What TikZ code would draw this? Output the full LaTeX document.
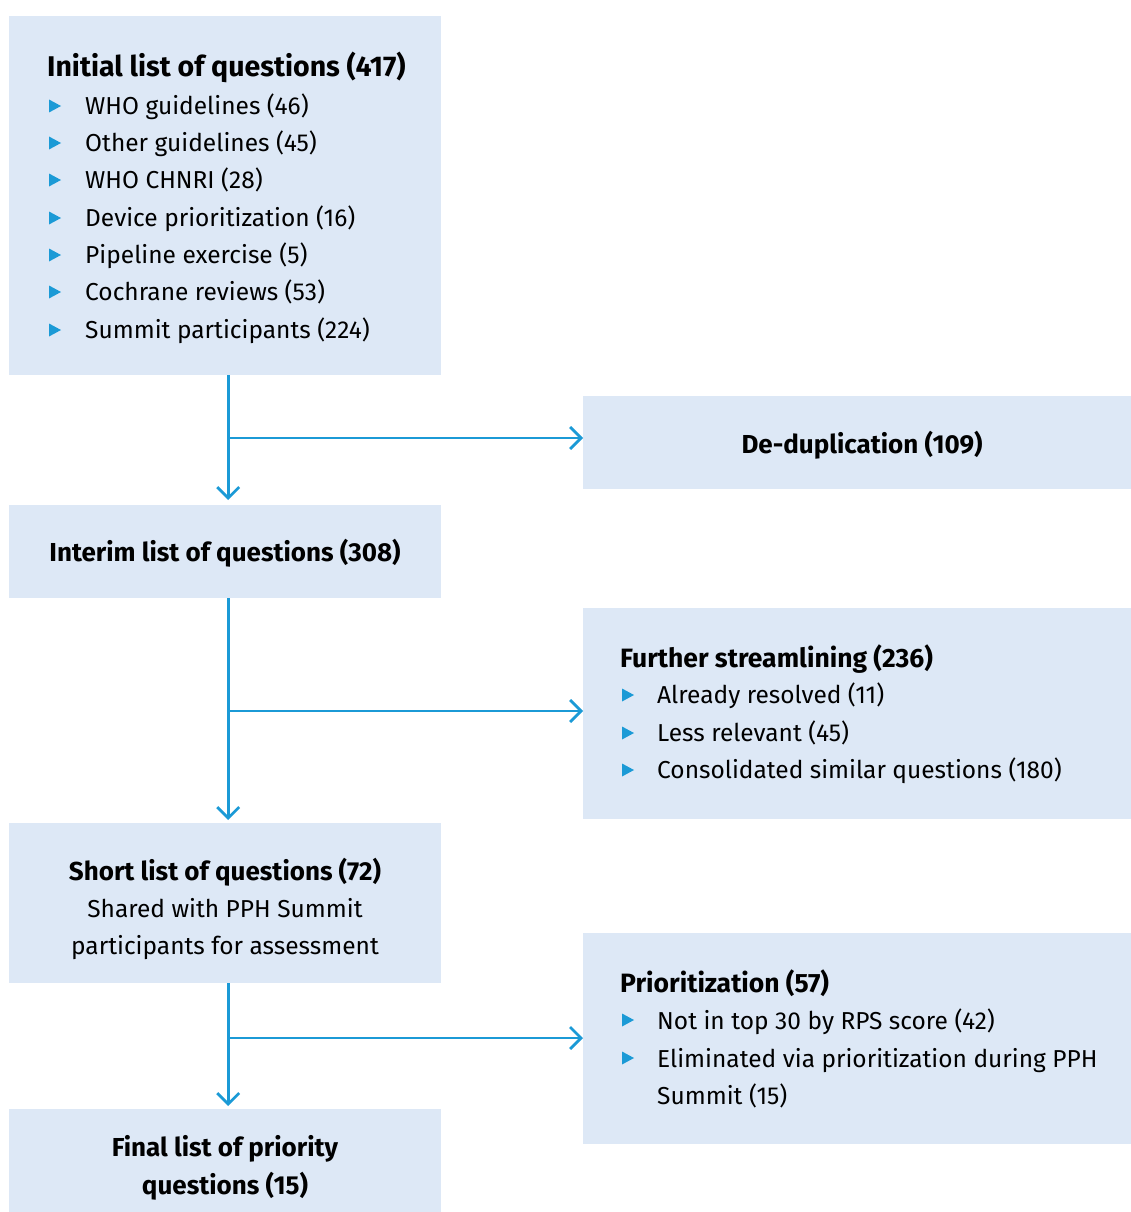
\documentclass[tikz,border=0pt]{standalone}
\usepackage{fontspec}
\setmainfont{Fira Sans}
\usetikzlibrary{arrows.meta}
\definecolor{boxfill}{HTML}{DDE8F6}
\definecolor{lineblue}{HTML}{1B9AD6}
\tikzset{
  box/.style={fill=boxfill, draw=none, inner sep=0pt, anchor=north west},
  conn/.style={draw=lineblue, line width=2.7pt, -{Straight Barb[length=11pt,width=22pt,line width=2.7pt]}},
  txt/.style={inner sep=0pt, anchor=base west, font=\fontsize{24.5}{28}\selectfont},
  ttl/.style={inner sep=0pt, anchor=base west, font=\fontsize{26.5}{30}\selectfont\bfseries},
  bigttl/.style={inner sep=0pt, anchor=base west, font=\fontsize{28.5}{32}\selectfont\bfseries},
  ctxt/.style={inner sep=0pt, anchor=base, font=\fontsize{24.5}{28}\selectfont},
  cttl/.style={inner sep=0pt, anchor=base, font=\fontsize{26}{30}\selectfont\bfseries},
}
\newcommand{\bul}[2]{\fill[lineblue] (#1,#2-6.5) -- (#1+12,#2) -- (#1,#2+6.5) -- cycle;}
\begin{document}
\begin{tikzpicture}[x=1pt,y=-1pt]
\useasboundingbox (0,0) rectangle (1131,1212);
% boxes
\node[box, minimum width=432pt, minimum height=359pt] (A) at (9,16) {};
\node[box, minimum width=548pt, minimum height=93pt] (B) at (583,396) {};
\node[box, minimum width=432pt, minimum height=93pt] (C) at (9,505) {};
\node[box, minimum width=548pt, minimum height=211pt] (D) at (583,608) {};
\node[box, minimum width=432pt, minimum height=160pt] (E) at (9,823) {};
\node[box, minimum width=548pt, minimum height=211pt] (F) at (583,933) {};
\node[box, minimum width=432pt, minimum height=103pt] (G) at (9,1109) {};
% box A text
\node[bigttl] (a0) at (47,77) {Initial list of questions (417)};
\node[txt] (a1) at (85,114) {WHO guidelines (46)};
\node[txt] (a2) at (85,151) {Other guidelines (45)};
\node[txt] (a3) at (85,188) {WHO CHNRI (28)};
\node[txt] (a4) at (85,226) {Device prioritization (16)};
\node[txt] (a5) at (85,263) {Pipeline exercise (5)};
\node[txt] (a6) at (85,300) {Cochrane reviews (53)};
\node[txt] (a7) at (85,338) {Summit participants (224)};
\foreach \y in {106,143,180,218,255,292,330} {\bul{49}{\y}}
% box B
\node[cttl] (b0) at (862,453) {De-duplication (109)};
% box C
\node[cttl] (c0) at (225,561) {Interim list of questions (308)};
% box D
\node[ttl] (d0) at (620,667) {Further streamlining (236)};
\node[txt] (d1) at (657,703) {Already resolved (11)};
\node[txt] (d2) at (657,741) {Less relevant (45)};
\node[txt] (d3) at (657,778) {Consolidated similar questions (180)};
\foreach \y in {695,733,770} {\bul{622}{\y}}
% box E
\node[cttl] (e0) at (225,880) {Short list of questions (72)};
\node[ctxt] (e1) at (225,917) {Shared with PPH Summit};
\node[ctxt] (e2) at (225,954) {participants for assessment};
% box F
\node[ttl] (f0) at (620,992) {Prioritization (57)};
\node[txt] (f1) at (657,1029) {Not in top 30 by RPS score (42)};
\node[txt] (f2) at (657,1067) {Eliminated via prioritization during PPH};
\node[txt] (f3) at (657,1104) {Summit (15)};
\foreach \y in {1020,1058} {\bul{622}{\y}}
% box G
\node[cttl] (g0) at (225,1156) {Final list of priority};
\node[cttl] (g1) at (225,1194) {questions (15)};
% connectors
\coordinate (j1) at (228,438);
\coordinate (j2) at (228,711);
\coordinate (j3) at (228,1038);
\draw[conn, shorten >=5pt] ([xshift=3pt]A.south) -- ([xshift=3pt]C.north);
\draw[conn] (j1) -- (j1 -| B.west);
\draw[conn, shorten >=3pt] ([xshift=3pt]C.south) -- ([xshift=3pt]E.north);
\draw[conn] (j2) -- (j2 -| D.west);
\draw[conn, shorten >=3pt] ([xshift=3pt]E.south) -- ([xshift=3pt]G.north);
\draw[conn] (j3) -- (j3 -| F.west);
\end{tikzpicture}
\end{document}
